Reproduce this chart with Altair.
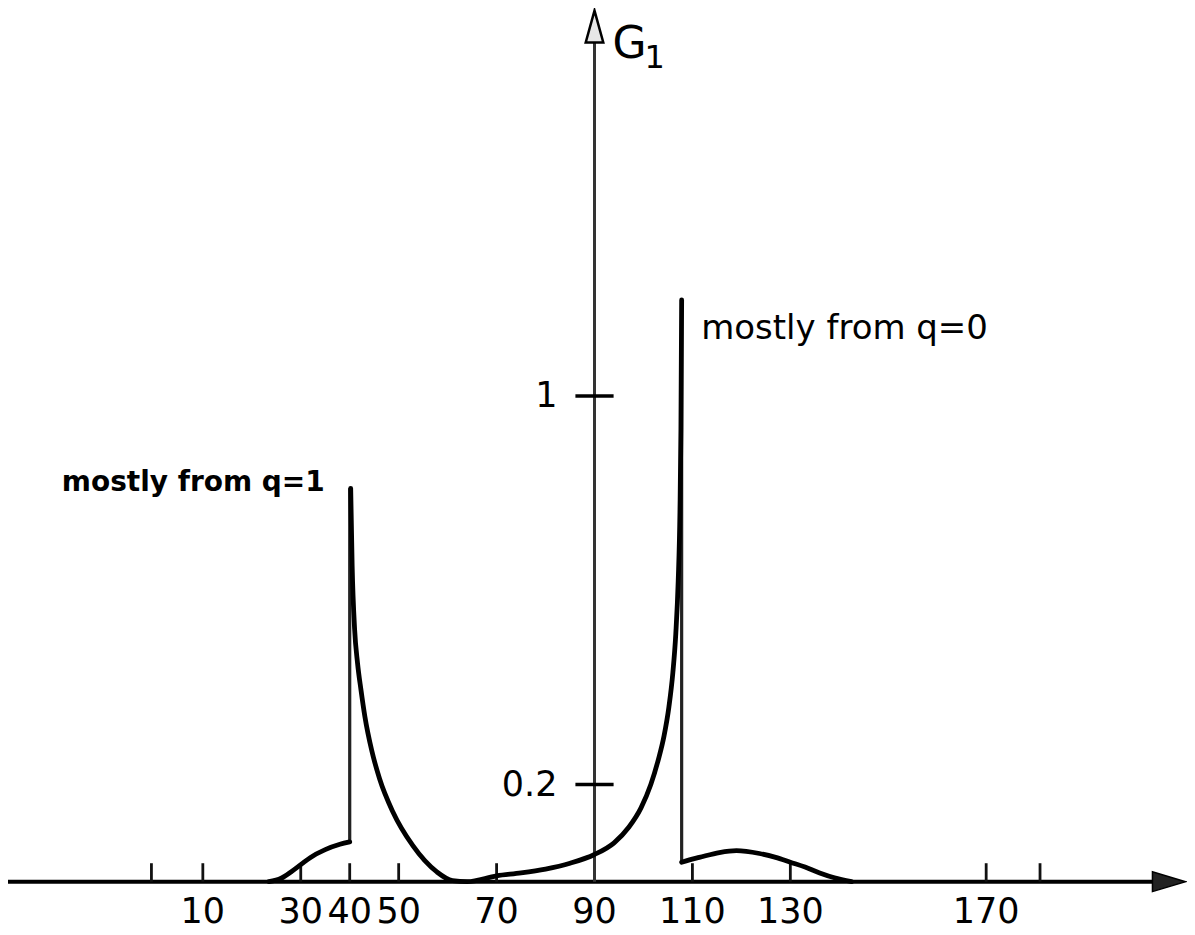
import altair as alt
import pandas as pd

# ---------------- data ----------------
# rising shoulder before the q=1 spike
left_x = [23.5, 26, 28, 30, 32, 35, 38, 40]
left_g = [0.0, 0.007, 0.02, 0.035, 0.05, 0.066, 0.077, 0.082]
# from the q=1 peak down, along the trough and up to the q=0 peak
mid_x = [40.2, 40.5, 41.0, 41.6, 42.3, 43.1, 44.5, 46.1, 48.8, 52.9, 57.8, 61.0, 64.0,
         70.0, 75.0, 80.0, 85.0, 90.0, 94.0, 97.0, 99.5, 101.5, 103.0,
         104.2, 105.2, 106.0, 106.6, 107.1, 107.45, 107.65, 107.8]
mid_g = [0.81, 0.65, 0.52, 0.45, 0.395, 0.34, 0.27, 0.212, 0.144, 0.074, 0.02, 0.002, 0.0,
         0.012, 0.018, 0.026, 0.038, 0.056, 0.08, 0.112, 0.152, 0.2, 0.25,
         0.30, 0.36, 0.43, 0.51, 0.62, 0.76, 0.93, 1.198]
# small hump after the q=0 spike
right_x = [107.8, 109.4, 111.4, 115.5, 119.0, 123.7, 127.0, 130.0, 133.0, 136.0, 139.0, 142.5]
right_g = [0.04, 0.045, 0.05, 0.06, 0.064, 0.058, 0.05, 0.04, 0.03, 0.018, 0.008, 0.0]

# vertical spikes
spike_x = [40.0, 107.8]
spike_lo = [0.082, 0.04]
spike_hi = [0.81, 1.198]

# axes
x_tick_vals = [-0.5, 10, 30, 40, 50, 70, 110, 130, 170, 181]
x_label_vals = [10, 30, 40, 50, 70, 90, 110, 130, 170]
x_label_text = ["10", "30", "40", "50", "70", "90", "110", "130", "170"]
y_tick_vals = [0.2, 1.0]
y_tick_text = ["0.2", "1"]
y_axis_at = 90
x_axis_from, x_axis_to = -29.8, 206.0
y_axis_top = 1.73

# annotations
ann1_text, ann1_x, ann1_g = "mostly from q=1", -18.8, 0.805
ann2_text, ann2_x, ann2_g = "mostly from q=0", 111.8, 1.117

# ---------------- scales ----------------
W, H = 1180, 925
XDOM = [-29.796, 211.02]
YDOM = [-0.1049, 1.7984]
FONT = "DejaVu Sans"


def X(f):
    return alt.X(f, type="quantitative", scale=alt.Scale(domain=XDOM, nice=False, zero=False), axis=None)


def Y(f):
    return alt.Y(f, type="quantitative", scale=alt.Scale(domain=YDOM, nice=False, zero=False), axis=None)


rows = []
for seg, xx, gg in (("a", left_x, left_g), ("b", mid_x, mid_g), ("c", right_x, right_g)):
    for i, (a, b) in enumerate(zip(xx, gg)):
        rows.append({"x": a, "g": b, "seg": seg, "i": i})
curve_df = pd.DataFrame(rows)

curve = alt.Chart(curve_df).mark_line(
    color="#000", strokeWidth=4.8, interpolate="monotone", strokeCap="round", strokeJoin="round"
).encode(x=X("x"), y=Y("g"), detail="seg:N", order="i:Q")

spikes = alt.Chart(pd.DataFrame({"x": spike_x, "lo": spike_lo, "hi": spike_hi})).mark_rule(
    color="#222", strokeWidth=3.2
).encode(x=X("x"), y=Y("lo"), y2="hi")

x_axis = alt.Chart(pd.DataFrame({"a": [x_axis_from], "b": [x_axis_to], "g": [0]})).mark_rule(
    color="#000", strokeWidth=4
).encode(x=X("a"), x2="b", y=Y("g"))

x_arrow = alt.Chart(pd.DataFrame({"x": [207.35], "g": [0]})).mark_point(
    shape="M1,0L-1,-0.6L-1,0.6Z", size=1100, filled=True, fill="#222", stroke="#000",
    strokeWidth=1.5, opacity=1
).encode(x=X("x"), y=Y("g"))

y_axis = alt.Chart(pd.DataFrame({"x": [y_axis_at], "lo": [0], "hi": [y_axis_top]})).mark_rule(
    color="#333", strokeWidth=3
).encode(x=X("x"), y=Y("lo"), y2="hi")

y_arrow = alt.Chart(pd.DataFrame({"x": [y_axis_at], "g": [1.761]})).mark_point(
    shape="M0,-1L0.55,1L-0.55,1Z", size=1024, filled=True, fill="#e6e6e6", stroke="#000",
    strokeWidth=2.5, opacity=1
).encode(x=X("x"), y=Y("g"))

x_ticks = alt.Chart(pd.DataFrame({"x": x_tick_vals, "lo": [0] * len(x_tick_vals),
                                  "hi": [0.038] * len(x_tick_vals)})).mark_rule(
    color="#111", strokeWidth=2.8
).encode(x=X("x"), y=Y("lo"), y2="hi")

x_labels = alt.Chart(pd.DataFrame({"x": x_label_vals, "t": x_label_text,
                                   "g": [0] * len(x_label_vals)})).mark_text(
    font=FONT, fontSize=35, baseline="middle", align="center", dy=30, color="#000"
).encode(x=X("x"), y=Y("g"), text="t:N")

y_ticks = alt.Chart(pd.DataFrame({"a": [y_axis_at - 3.9] * 2, "b": [y_axis_at + 3.9] * 2,
                                  "g": y_tick_vals})).mark_rule(
    color="#000", strokeWidth=3.5
).encode(x=X("a"), x2="b", y=Y("g"))

y_labels = alt.Chart(pd.DataFrame({"x": [y_axis_at - 3.9] * 2, "g": y_tick_vals,
                                   "t": y_tick_text})).mark_text(
    font=FONT, fontSize=35, baseline="middle", align="right", dx=-18, color="#000"
).encode(x=X("x"), y=Y("g"), text="t:N")

ann1 = alt.Chart(pd.DataFrame({"x": [ann1_x], "g": [ann1_g], "t": [ann1_text]})).mark_text(
    font=FONT, fontSize=28, fontWeight="bold", align="left", baseline="alphabetic", color="#000"
).encode(x=X("x"), y=Y("g"), text="t:N")

ann2 = alt.Chart(pd.DataFrame({"x": [ann2_x], "g": [ann2_g], "t": [ann2_text]})).mark_text(
    font=FONT, fontSize=34, align="left", baseline="alphabetic", color="#000"
).encode(x=X("x"), y=Y("g"), text="t:N")

g_label = alt.Chart(pd.DataFrame({"x": [93.7], "g": [1.697], "t": ["G"]})).mark_text(
    font=FONT, fontSize=44, align="left", baseline="alphabetic", color="#000"
).encode(x=X("x"), y=Y("g"), text="t:N")

g_sub = alt.Chart(pd.DataFrame({"x": [100.2], "g": [1.675], "t": ["1"]})).mark_text(
    font=FONT, fontSize=32, align="left", baseline="alphabetic", color="#000"
).encode(x=X("x"), y=Y("g"), text="t:N")

chart = alt.layer(
    x_axis, x_arrow, x_ticks, x_labels, y_axis, y_arrow, y_ticks, y_labels,
    spikes, curve, ann1, ann2, g_label, g_sub
).properties(
    width=W, height=H, padding=0, autosize=alt.AutoSizeParams(type="none"),
    background="white"
).configure_view(strokeWidth=0)

chart.save("out.html", embed_options={"renderer": "svg", "actions": False})
